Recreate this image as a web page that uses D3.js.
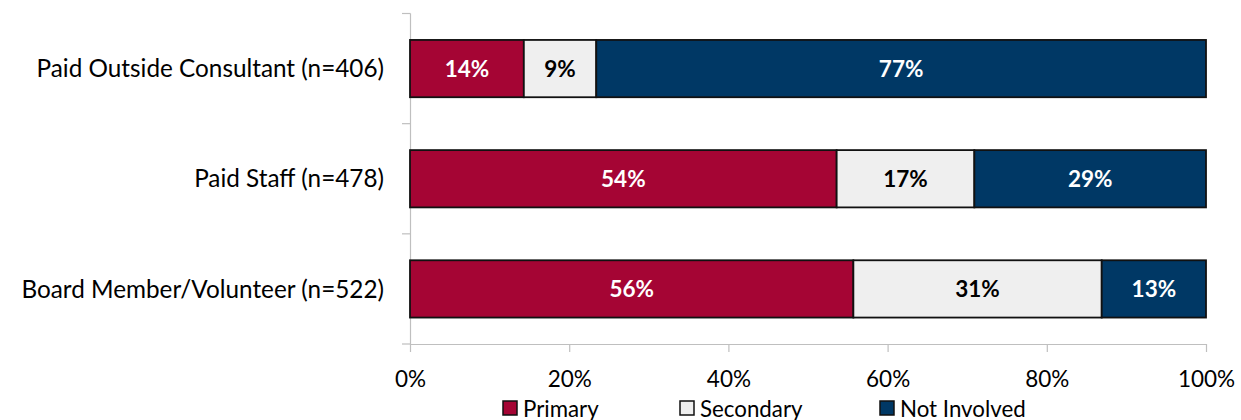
<!DOCTYPE html>
<html>
<head>
<meta charset="utf-8">
<script src="https://cdn.jsdelivr.net/npm/d3@7"></script>
<style>
  html, body { margin: 0; padding: 0; background: #fff; }
  svg { display: block; font-family: Lato, "Liberation Sans", sans-serif; }
</style>
</head>
<body>
<svg id="chart" width="1241" height="420"></svg>
<script>
// Who handles the work, by respondent group (percent of respondents)
const categories = [
  "Paid Outside Consultant (n=406)",
  "Paid Staff (n=478)",
  "Board Member/Volunteer (n=522)"
];
const seriesNames = ["Primary", "Secondary", "Not Involved"];
const primary     = [14.3, 53.6, 55.7];
const secondary   = [9.1, 17.3, 31.2];
const notInvolved = [76.6, 29.1, 13.1];
const tickValues  = [0, 20, 40, 60, 80, 100];
const colors      = ["#A50534", "#EFEFEF", "#003865"];
const labelColors = ["#ffffff", "#000000", "#ffffff"];

const rows = categories.map((c, i) => ({
  category: c,
  Primary: primary[i],
  Secondary: secondary[i],
  "Not Involved": notInvolved[i]
}));

const svg = d3.select("#chart");
const margin = { top: 13.5, right: 35, bottom: 76, left: 410 };
const width = 1241 - margin.left - margin.right;
const height = 420 - margin.top - margin.bottom;

const g = svg.append("g").attr("transform", `translate(${margin.left},${margin.top})`);

const x = d3.scaleLinear().domain([0, 100]).range([0, width]);
const y = d3.scaleBand().domain(categories).range([0, height]).paddingInner(0.48).paddingOuter(0.24);

const stack = d3.stack().keys(seriesNames);
const layers = stack(rows);

const axisColor = "#BFBFBF";

// left axis with separators between categories
const bandStep = height / categories.length;
g.append("line")
  .attr("x1", 0.5).attr("x2", 0.5)
  .attr("y1", 0).attr("y2", height)
  .attr("stroke", axisColor).attr("stroke-width", 1.2);
d3.range(categories.length + 1).forEach(i => {
  g.append("line")
    .attr("x1", -8).attr("x2", 0.5)
    .attr("y1", i * bandStep).attr("y2", i * bandStep)
    .attr("stroke", axisColor).attr("stroke-width", 1.2);
});

// x axis
const xAxis = g.append("g")
  .attr("transform", `translate(0,${height})`)
  .call(d3.axisBottom(x).tickValues(tickValues).tickFormat(d => d + "%").tickSize(8).tickSizeOuter(0));
xAxis.select(".domain").attr("stroke", axisColor).attr("stroke-width", 1.2);
xAxis.selectAll(".tick line").attr("stroke", axisColor).attr("stroke-width", 1.2);
xAxis.selectAll(".tick text")
  .attr("font-size", 22.5).attr("fill", "#000")
  .attr("y", 43).attr("dy", 0)
  .style("font-family", "Lato, 'Liberation Sans', sans-serif");

// category labels
g.selectAll(".cat")
  .data(categories)
  .join("text")
  .attr("class", "cat")
  .attr("x", -26)
  .attr("y", d => y(d) + y.bandwidth() / 2)
  .attr("dy", "0.36em")
  .attr("text-anchor", "end")
  .attr("font-size", 24.3)
  .attr("fill", "#000")
  .text(d => d);

// stacked bars
const layerG = g.selectAll(".layer")
  .data(layers)
  .join("g")
  .attr("class", "layer");

layerG.selectAll("rect")
  .data((d, i) => d.map(s => ({ s, i })))
  .join("rect")
  .attr("x", d => x(d.s[0]))
  .attr("y", d => y(d.s.data.category))
  .attr("width", d => x(d.s[1]) - x(d.s[0]))
  .attr("height", y.bandwidth())
  .attr("fill", d => colors[d.i])
  .attr("stroke", "#111")
  .attr("stroke-width", 1.8);

layerG.selectAll("text")
  .data((d, i) => d.map(s => ({ s, i })))
  .join("text")
  .attr("x", d => (x(d.s[0]) + x(d.s[1])) / 2)
  .attr("y", d => y(d.s.data.category) + y.bandwidth() / 2)
  .attr("dy", "0.38em")
  .attr("text-anchor", "middle")
  .attr("font-size", 22.5)
  .attr("font-weight", "bold")
  .attr("fill", d => labelColors[d.i])
  .text(d => Math.round(d.s[1] - d.s[0]) + "%");

// legend
const legendX = [503, 680, 880];
const legend = svg.append("g");
seriesNames.forEach((name, i) => {
  legend.append("rect")
    .attr("x", legendX[i]).attr("y", 401)
    .attr("width", 14).attr("height", 14)
    .attr("fill", colors[i])
    .attr("stroke", "#111").attr("stroke-width", 1.5);
  legend.append("text")
    .attr("x", legendX[i] + 20).attr("y", 417)
    .attr("font-size", 22.3)
    .attr("fill", "#000")
    .text(name);
});
</script>
</body>
</html>
